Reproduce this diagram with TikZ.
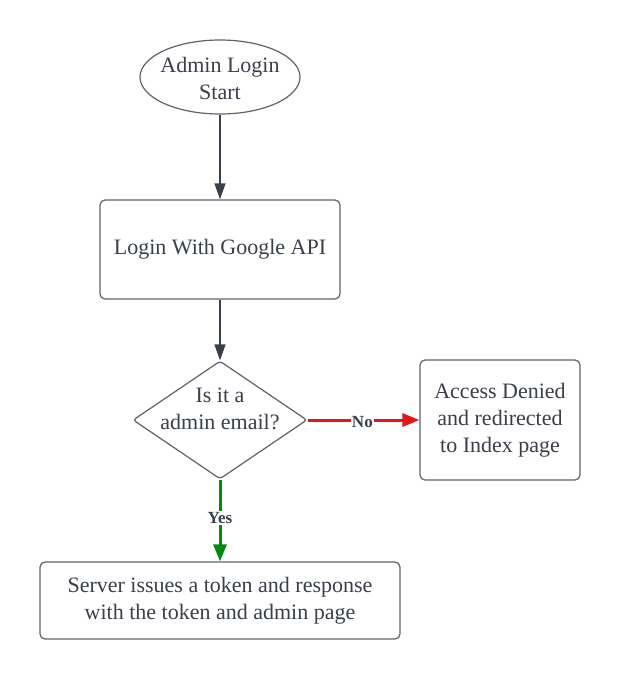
\documentclass[tikz,border=0pt]{standalone}
\usepackage{fontspec}
\setmainfont{Liberation Serif}
\usetikzlibrary{shapes.geometric,arrows.meta}
\definecolor{txt}{HTML}{3A3F4A}
\definecolor{bord}{HTML}{5F636B}
\definecolor{lnk}{HTML}{3A3F4A}
\definecolor{nored}{HTML}{E3171A}
\definecolor{yesgreen}{HTML}{058A10}
\tikzset{
  every node/.style={text=txt},
  bigtext/.style={font=\fontsize{22}{27}\selectfont, align=center},
  box/.style={draw=bord, line width=1.2pt, rounded corners=5pt, inner sep=0pt, bigtext},
  conn/.style={draw=lnk, line width=1.2pt, -{Triangle[length=16pt,width=11pt]}},
  noconn/.style={draw=nored, line width=3pt, -{Triangle[length=17pt,width=13pt]}},
  yesconn/.style={draw=yesgreen, line width=3pt, -{Triangle[length=17pt,width=13pt]}},
  lbl/.style={font=\fontsize{17}{20}\selectfont\bfseries, fill=white, inner sep=1pt, text=txt}
}
\begin{document}
\begin{tikzpicture}[x=1pt,y=-1pt]
\useasboundingbox[fill=white] (0,0) rectangle (620,680);
\node[ellipse, draw=bord, line width=1.2pt, minimum width=160pt, minimum height=74pt, inner sep=0pt] (start) at (220,77) {};
\node[bigtext] (starttext) at (220,78) {Admin Login\\Start};
\node[box, minimum width=240pt, minimum height=99pt] (google) at (220,249.5) {Login With Google API};
\node[diamond, draw=bord, line width=1.2pt, rounded corners=3pt, minimum width=174pt, minimum height=118pt, inner sep=0pt] (dia) at (220,420) {};
\node[bigtext] (diatext) at (220,409) {Is it a\\admin email?};
\node[box, minimum width=160pt, minimum height=120pt] (denied) at (500,420) {Access Denied\\and redirected\\to Index page};
\node[box, minimum width=360pt, minimum height=77pt] (server) at (220,600.5) {Server issues a token and response\\with the token and admin page};
\draw[conn] (start) -- (google);
\draw[conn] (google) -- (dia.north);
\draw[noconn] (dia.east) -- node[lbl, pos=0.49, yshift=-2pt] (nolbl) {No} (denied.west);
\draw[yesconn] (dia.south) -- node[lbl, pos=0.47] (yeslbl) {Yes} (server.north);
\end{tikzpicture}
\end{document}
